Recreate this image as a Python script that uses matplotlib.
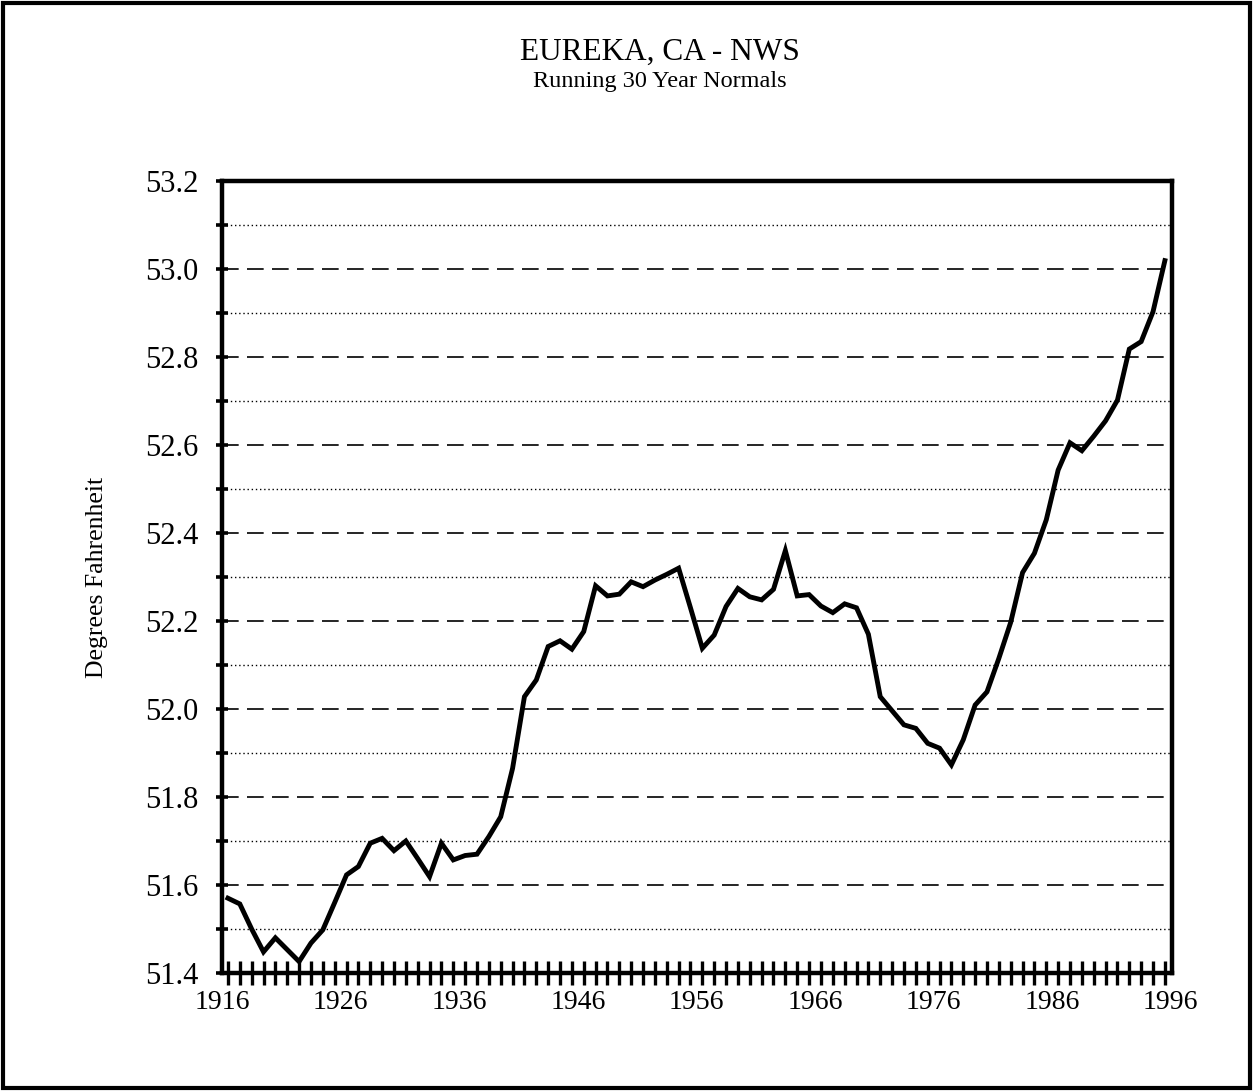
import numpy as np
import matplotlib.pyplot as plt
from matplotlib.patches import Rectangle
from matplotlib.ticker import MultipleLocator, FixedLocator

# running 30 year normal, one value per ending year 1917..1996
YEARS = list(range(1917, 1997))
TEMPS = [51.57, 51.557, 51.50, 51.448, 51.48, 51.453, 51.426, 51.468, 51.498, 51.56,
         51.623, 51.642, 51.695, 51.706, 51.678, 51.70, 51.66, 51.619, 51.695, 51.657,
         51.667, 51.670, 51.71, 51.755, 51.865, 52.028, 52.066, 52.142, 52.155, 52.136,
         52.176, 52.28, 52.257, 52.261, 52.289, 52.278, 52.293, 52.306, 52.32, 52.23,
         52.138, 52.168, 52.233, 52.274, 52.255, 52.248, 52.272, 52.36, 52.257, 52.26,
         52.234, 52.219, 52.239, 52.23, 52.17, 52.028, 51.996, 51.964, 51.956, 51.922,
         51.911, 51.873, 51.93, 52.009, 52.039, 52.115, 52.197, 52.31, 52.354, 52.43,
         52.543, 52.605, 52.587, 52.62, 52.655, 52.702, 52.818, 52.835, 52.903, 53.019]

XLABELS = ["1916", "1926", "1936", "1946", "1956", "1966", "1976", "1986", "1996"]
YTICKS = [51.4, 51.6, 51.8, 52.0, 52.2, 52.4, 52.6, 52.8, 53.0, 53.2]

plt.rcParams['font.family'] = ['Liberation Serif', 'DejaVu Serif']

W, H = 1253, 1091
fig = plt.figure(figsize=(W / 100, H / 100), dpi=100)
ax = fig.add_axes([222 / W, 1 - 973 / H, 950 / W, 792 / H])

# points sit in the middle of each year slot
xs = np.array(YEARS) - 0.5
ax.plot(xs, TEMPS, color="black", linewidth=3.5, solid_joinstyle="miter", zorder=3)

ax.set_xlim(1916, 1996.1)
ax.set_ylim(51.4, 53.2)

ax.set_xticks([int(s) for s in XLABELS])
ax.set_xticklabels(XLABELS)
ax.xaxis.set_minor_locator(FixedLocator(xs))
ax.tick_params(axis="x", which="major", length=0, pad=12, labelsize=20)
ax.tick_params(axis="x", which="minor", direction="inout", length=17, width=2.4)

ax.set_yticks(YTICKS)
ax.set_yticklabels(["%.1f" % v for v in YTICKS])
ax.yaxis.set_minor_locator(MultipleLocator(0.1))
ax.tick_params(axis="y", which="both", direction="inout", length=8, width=2.6)
ax.tick_params(axis="y", which="major", pad=13, labelsize=22)

ax.grid(axis="y", which="major", color="black", linestyle=(0, (10, 5)), linewidth=1.2)
ax.grid(axis="y", which="minor", color="black", linestyle=(0, (1, 2)), linewidth=1.0)

for s in ax.spines.values():
    s.set_linewidth(3.2)

fig.text(660 / W, 1 - 52 / H, "EUREKA, CA - NWS", ha="center", va="center", fontsize=22.5)
fig.text(660 / W, 1 - 82 / H, "Running 30 Year Normals", ha="center", va="center", fontsize=17.5)
fig.text(97 / W, 1 - 577 / H, "Degrees Fahrenheit", rotation=90, ha="center", va="center", fontsize=18.5)

# outer frame
fig.patches.append(Rectangle((3 / W, 3 / H), 1 - 6 / W, 1 - 6 / H, transform=fig.transFigure,
                             fill=False, edgecolor="black", linewidth=3))

fig.savefig("out.png", dpi=100)
